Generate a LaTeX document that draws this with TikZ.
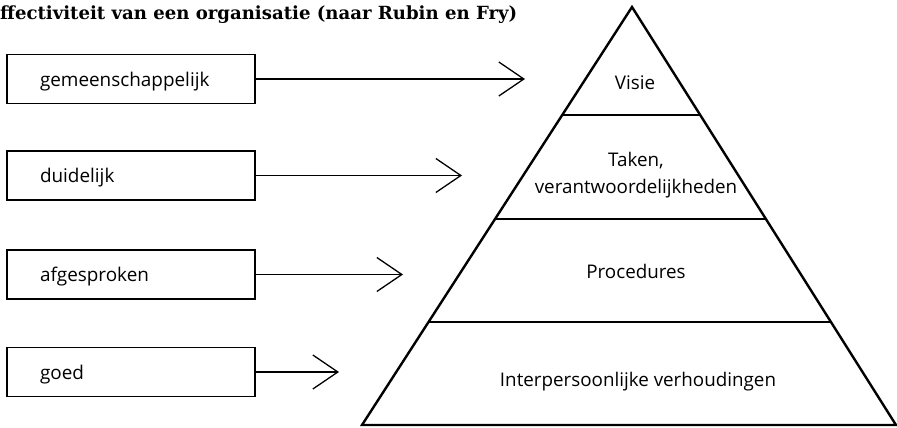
\documentclass[tikz,border=0pt]{standalone}
\usepackage{fontspec}
\setmainfont{Open Sans}
\newfontfamily\titlefont{DejaVu Serif}
\usetikzlibrary{arrows.meta,calc}
\begin{document}
\begin{tikzpicture}[x=1pt,y=-1pt,
  labelbox/.style={draw,line width=1.8pt,rectangle,minimum height=49pt,
    text width=182pt,inner xsep=33pt,inner ysep=0pt,text height=14pt,text depth=0pt,
    align=left,font=\fontsize{18.9}{20}\selectfont},
  conn/.style={line width=1.3pt,-{Straight Barb[length=25pt,width=34pt,line width=1.3pt]}},
  pyr/.style={line width=2.4pt,line join=miter},
  layer/.style={line width=1.6pt},
  pyrtext/.style={font=\fontsize{18.8}{27}\selectfont,align=center,inner sep=0pt}]
\useasboundingbox (0,0) rectangle (897,428);
\fill[white] (0,0) rectangle (897,428);
\node[anchor=base west,inner sep=0pt,font=\titlefont\bfseries\fontsize{18.1}{20}\selectfont] (title) at (0,20) {ffectiviteit van een organisatie (naar Rubin en Fry)};
% boxes
\node[labelbox] (b1) at (131,79) {gemeenschappelijk};
\node[labelbox] (b2) at (131,175.5) {duidelijk};
\node[labelbox] (b3) at (131,274.5) {afgesproken};
\node[labelbox] (b4) at (131,372) {goed};
% arrow ends
\coordinate (e1) at (525,79);
\coordinate (e2) at (462,175.5);
\coordinate (e3) at (403,274.5);
\coordinate (e4) at (339,372);
\draw[conn] (b1.east) -- (e1);
\draw[conn] (b2.east) -- (e2);
\draw[conn] (b3.east) -- (e3);
\draw[conn] (b4.east) -- (e4);
% pyramid
\coordinate (apex) at (632,7);
\coordinate (bl) at (362,425);
\coordinate (br) at (896,425);
\draw[pyr] (bl) -- (apex) -- (br) -- cycle;
\coordinate (l1) at ($(apex)!0.2584!(bl)$);
\coordinate (r1) at ($(apex)!0.2584!(br)$);
\coordinate (l2) at ($(apex)!0.5072!(bl)$);
\coordinate (r2) at ($(apex)!0.5072!(br)$);
\coordinate (l3) at ($(apex)!0.7536!(bl)$);
\coordinate (r3) at ($(apex)!0.7536!(br)$);
\draw[layer] (l1) -- (r1);
\draw[layer] (l2) -- (r2);
\draw[layer] (l3) -- (r3);
\node[pyrtext] (t1) at (635,83) {Visie};
\node[pyrtext] (t2) at (636,175) {Taken,\\verantwoordelijkheden};
\node[pyrtext] (t3) at (636,271) {Procedures};
\node[pyrtext] (t4) at (638,382) {Interpersoonlijke verhoudingen};
\end{tikzpicture}
\end{document}
